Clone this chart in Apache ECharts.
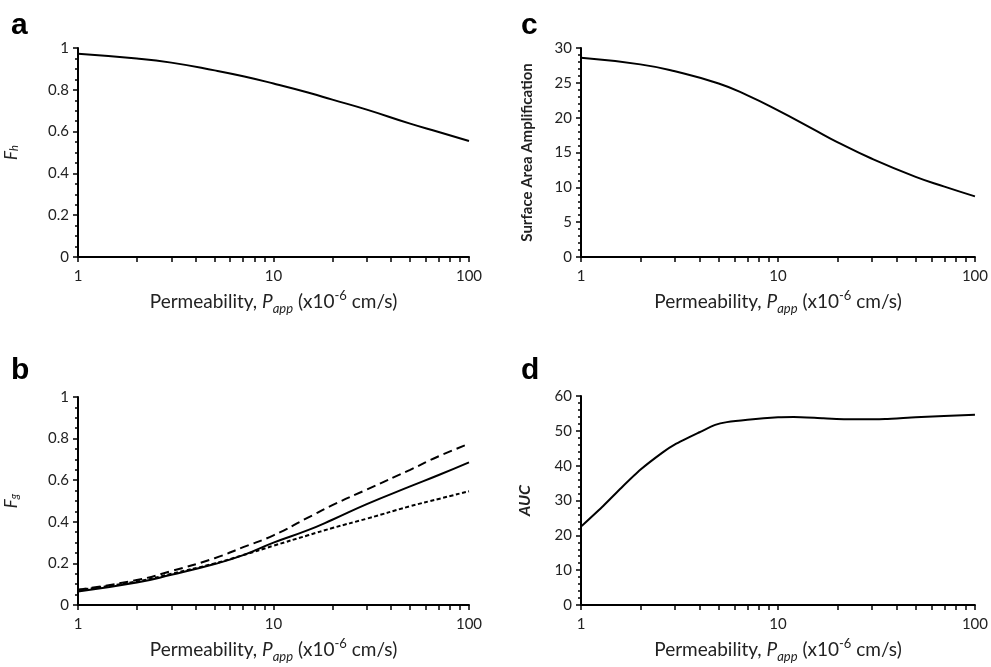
<!DOCTYPE html>
<html lang="en">
<head>
    <meta charset="UTF-8">
    <title>Permeability panels</title>
    <script src="https://cdn.jsdelivr.net/npm/echarts@6/dist/echarts.min.js"></script>
    <style>
        html, body { margin: 0; padding: 0; background: #fff; }
        #main { width: 991px; height: 667px; }
    </style>
</head>
<body>
<div id="main"></div>
<script>
    // permeability values (x10-6 cm/s)
    var papp = [1, 2, 3, 5, 7, 10, 15, 20, 30, 50, 70, 100];
    // panel a - Fh
    var fh = [0.973, 0.95, 0.93, 0.893, 0.865, 0.83, 0.787, 0.753, 0.705, 0.638, 0.598, 0.555];
    // panel b - Fg, three curves
    var fgSolid = [0.065, 0.108, 0.145, 0.197, 0.24, 0.30, 0.36, 0.41, 0.485, 0.57, 0.625, 0.686];
    var fgLongDash = [0.073, 0.12, 0.163, 0.225, 0.278, 0.335, 0.42, 0.48, 0.555, 0.65, 0.715, 0.775];
    var fgShortDash = [0.072, 0.113, 0.15, 0.2, 0.24, 0.285, 0.335, 0.37, 0.415, 0.475, 0.51, 0.547];
    // panel c - surface area amplification
    var surfArea = [28.6, 27.65, 26.65, 24.9, 23.2, 21.05, 18.4, 16.5, 14.1, 11.5, 10.1, 8.7];
    // panel d - AUC
    var aucPapp = [1, 1.3, 1.6, 2, 2.6, 3, 4, 4.8, 5.5, 7, 10, 12, 17, 24, 35, 50, 100];
    var auc = [22.5, 28.5, 33.6, 38.8, 43.8, 46.1, 49.6, 51.7, 52.5, 53.2, 53.9, 54.0, 53.6, 53.3, 53.4, 53.9, 54.6];

    var xTicks = [1, 2, 3, 4, 5, 6, 7, 8, 9, 10, 20, 30, 40, 50, 60, 70, 80, 90, 100];

    function pairs(xs, ys) {
        return xs.map(function (x, i) { return [x, ys[i]]; });
    }

    var font = 'Lato';
    var xName = '{t|Permeability, }{i|P}{sub|app}{t| (x10}{sup|-6}{t| cm/s)}';
    var xNameStyle = {
        fontFamily: font, color: '#222', lineHeight: 26,
        rich: {
            t: { fontSize: 19, fontFamily: font, color: '#222', lineHeight: 26 },
            i: { fontSize: 19, fontFamily: font, color: '#222', fontStyle: 'italic', lineHeight: 26 },
            sub: { fontSize: 13, fontFamily: font, color: '#222', fontStyle: 'italic', verticalAlign: 'bottom', lineHeight: 13 },
            sup: { fontSize: 13, fontFamily: font, color: '#222', verticalAlign: 'top', lineHeight: 17 }
        }
    };

    function xAxisFor(idx) {
        return {
            type: 'log', logBase: 10, min: 1, max: 100, gridIndex: idx,
            name: xName, nameLocation: 'middle', nameGap: 32, nameTextStyle: xNameStyle,
            axisLine: { lineStyle: { color: '#000', width: 2 } },
            axisTick: { customValues: xTicks, length: 5, lineStyle: { color: '#000', width: 1.5 } },
            axisLabel: { fontFamily: font, fontSize: 15, color: '#222', margin: 12 },
            splitLine: { show: false }
        };
    }

    function yAxisFor(idx, max, interval, minorSplit, name, nameStyle, gap) {
        return {
            type: 'value', gridIndex: idx, min: 0, max: max, interval: interval,
            name: name, nameLocation: 'middle', nameGap: gap, nameTextStyle: nameStyle,
            axisLine: { show: true, lineStyle: { color: '#000', width: 2 } },
            axisTick: { show: true, length: 5, lineStyle: { color: '#000', width: 1.5 } },
            minorTick: { show: true, splitNumber: minorSplit, length: 3, lineStyle: { color: '#000', width: 1.5 } },
            axisLabel: { fontFamily: font, fontSize: 15, color: '#222', margin: 9 },
            splitLine: { show: false }
        };
    }

    var subName = {
        fontFamily: font, color: '#222',
        rich: {
            i: { fontSize: 17, fontFamily: font, fontStyle: 'italic', color: '#222' },
            s: { fontSize: 11, fontFamily: font, fontStyle: 'italic', color: '#222', verticalAlign: 'bottom', lineHeight: 11 }
        }
    };

    function lineSeries(idx, data, type, smooth) {
        return {
            type: 'line', xAxisIndex: idx, yAxisIndex: idx, data: data,
            showSymbol: false, smooth: smooth, silent: true,
            lineStyle: { color: '#000', width: 2, type: type }
        };
    }

    var myChart = echarts.init(document.getElementById('main'));
    var letterStyle = { fontFamily: 'Liberation Sans', fontWeight: 'bold', fontSize: 30, color: '#000' };

    var option = {
        animation: false,
        backgroundColor: '#fff',
        title: [
            { text: 'a', left: 11, top: 11, padding: 0, textStyle: letterStyle },
            { text: 'b', left: 11, top: 356, padding: 0, textStyle: letterStyle },
            { text: 'c', left: 521, top: 11, padding: 0, textStyle: letterStyle },
            { text: 'd', left: 521, top: 356, padding: 0, textStyle: letterStyle }
        ],
        grid: [
            { left: 78, top: 48, width: 391, height: 209 },
            { left: 78, top: 397, width: 391, height: 208 },
            { left: 581, top: 48, width: 396, height: 209 },
            { left: 581, top: 396, width: 396, height: 209 }
        ],
        xAxis: [xAxisFor(0), xAxisFor(1), xAxisFor(2), xAxisFor(3)],
        yAxis: [
            yAxisFor(0, 1, 0.2, 4, '{i|F}{s|h}', subName, 58),
            yAxisFor(1, 1, 0.2, 4, '{i|F}{s|g}', subName, 58),
            yAxisFor(2, 30, 5, 5, 'Surface Area Amplification',
                { fontFamily: font, fontSize: 15, fontWeight: 'bold', color: '#222' }, 46),
            yAxisFor(3, 60, 10, 5, 'AUC',
                { fontFamily: font, fontSize: 16, fontWeight: 'bold', fontStyle: 'italic', color: '#222' }, 48)
        ],
        series: [
            lineSeries(0, pairs(papp, fh), 'solid', true),
            lineSeries(1, pairs(papp, fgLongDash), [9, 5], true),
            lineSeries(1, pairs(papp, fgShortDash), [4, 2.5], true),
            lineSeries(1, pairs(papp, fgSolid), 'solid', true),
            lineSeries(2, pairs(papp, surfArea), 'solid', true),
            lineSeries(3, pairs(aucPapp, auc), 'solid', 0.2)
        ]
    };
    myChart.setOption(option);
</script>
</body>
</html>
